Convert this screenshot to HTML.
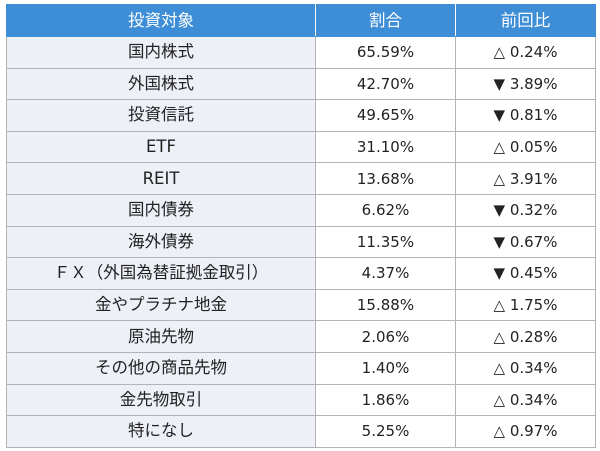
<!DOCTYPE html><html><head><meta charset="utf-8"><style>
body{margin:0;background:#fff;width:600px;height:451px;overflow:hidden}
table{position:absolute;left:6px;top:4px;border-collapse:collapse;width:590px;font-family:"DejaVu Sans","Noto Sans CJK JP",sans-serif;font-size:15px;color:#222}
td,th{border:1px solid #b4b4b4;text-align:center;padding:0;height:30.6px;line-height:18px}
th{background:#3d8ed6;color:#fff;font-weight:normal;height:31px;border-color:#3d8ed6 #fff #3d8ed6 #3d8ed6;font-size:16.5px}
th:last-child{border-right-color:#3d8ed6}
td:first-child{background:#eef0f8;width:308px;font-size:16.5px}
td:nth-child(2){width:139px}
</style></head><body><table>
<tr><th>投資対象</th><th>割合</th><th>前回比</th></tr>
<tr><td>国内株式</td><td>65.59%</td><td>△ 0.24%</td></tr>
<tr><td>外国株式</td><td>42.70%</td><td>▼ 3.89%</td></tr>
<tr><td>投資信託</td><td>49.65%</td><td>▼ 0.81%</td></tr>
<tr><td>ETF</td><td>31.10%</td><td>△ 0.05%</td></tr>
<tr><td>REIT</td><td>13.68%</td><td>△ 3.91%</td></tr>
<tr><td>国内債券</td><td>6.62%</td><td>▼ 0.32%</td></tr>
<tr><td>海外債券</td><td>11.35%</td><td>▼ 0.67%</td></tr>
<tr><td>ＦＸ（外国為替証拠金取引）</td><td>4.37%</td><td>▼ 0.45%</td></tr>
<tr><td>金やプラチナ地金</td><td>15.88%</td><td>△ 1.75%</td></tr>
<tr><td>原油先物</td><td>2.06%</td><td>△ 0.28%</td></tr>
<tr><td>その他の商品先物</td><td>1.40%</td><td>△ 0.34%</td></tr>
<tr><td>金先物取引</td><td>1.86%</td><td>△ 0.34%</td></tr>
<tr><td>特になし</td><td>5.25%</td><td>△ 0.97%</td></tr>
</table></body></html>
